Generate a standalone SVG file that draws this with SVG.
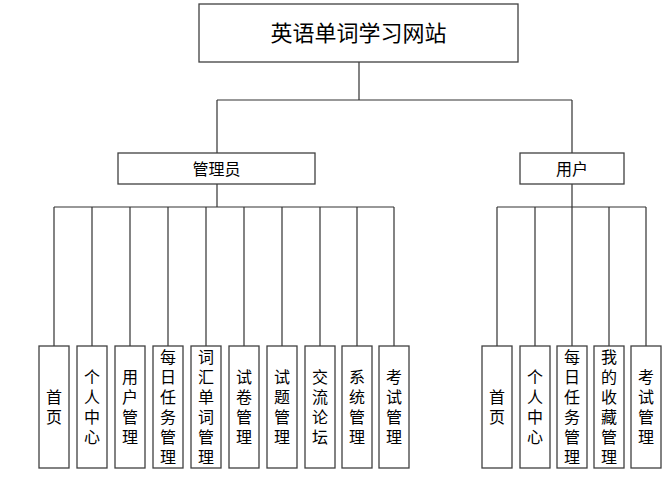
<svg xmlns="http://www.w3.org/2000/svg" width="669" height="477" viewBox="0 0 669 477">
<style>
.box{fill:#fff;stroke:#404040;stroke-width:1.3}
.ln{stroke:#333;stroke-width:1.2;fill:none}
text{font-family:"Noto Sans CJK SC","Noto Sans",sans-serif;fill:#000;text-anchor:middle}
.t1{font-size:22px}
.t2{font-size:16px}
.lf{font-size:16px;writing-mode:vertical-rl;letter-spacing:4px}
</style>
<rect width="669" height="477" fill="#fff"/>
<g id="connectors">
<path class="ln" d="M359,62V100M217,100H572M217,100V153M572,100V153"/>
<path class="ln" d="M217,184V207M54,207H394M54,207V346M92,207V346M130,207V346M168,207V346M206,207V346M244,207V346M282,207V346M320,207V346M357,207V346M394,207V346"/>
<path class="ln" d="M572,184V207M497,207H646M497,207V346M535,207V346M572,207V346M609,207V346M646,207V346"/>
</g>
<g id="root"><rect class="box" x="199" y="4" width="319" height="58"/><text class="t1" x="358.5" y="41">英语单词学习网站</text></g>
<g id="admin"><rect class="box" x="118" y="153" width="197" height="31"/><text class="t2" x="216.5" y="175">管理员</text></g>
<g id="user"><rect class="box" x="520" y="153" width="104" height="31"/><text class="t2" x="572" y="175">用户</text></g>
<g id="a1"><rect class="box" x="39" y="346" width="30" height="122"/><text class="lf" x="54" y="409">首页</text></g>
<g id="a2"><rect class="box" x="77" y="346" width="30" height="122"/><text class="lf" x="92" y="409">个人中心</text></g>
<g id="a3"><rect class="box" x="115" y="346" width="30" height="122"/><text class="lf" x="130" y="409">用户管理</text></g>
<g id="a4"><rect class="box" x="153" y="346" width="30" height="122"/><text class="lf" x="168" y="409">每日任务管理</text></g>
<g id="a5"><rect class="box" x="191" y="346" width="30" height="122"/><text class="lf" x="206" y="409">词汇单词管理</text></g>
<g id="a6"><rect class="box" x="229" y="346" width="30" height="122"/><text class="lf" x="244" y="409">试卷管理</text></g>
<g id="a7"><rect class="box" x="267" y="346" width="30" height="122"/><text class="lf" x="282" y="409">试题管理</text></g>
<g id="a8"><rect class="box" x="305" y="346" width="30" height="122"/><text class="lf" x="320" y="409">交流论坛</text></g>
<g id="a9"><rect class="box" x="342" y="346" width="30" height="122"/><text class="lf" x="357" y="409">系统管理</text></g>
<g id="a10"><rect class="box" x="379" y="346" width="30" height="122"/><text class="lf" x="394" y="409">考试管理</text></g>
<g id="u1"><rect class="box" x="482" y="346" width="30" height="122"/><text class="lf" x="497" y="409">首页</text></g>
<g id="u2"><rect class="box" x="520" y="346" width="30" height="122"/><text class="lf" x="535" y="409">个人中心</text></g>
<g id="u3"><rect class="box" x="557" y="346" width="30" height="122"/><text class="lf" x="572" y="409">每日任务管理</text></g>
<g id="u4"><rect class="box" x="594" y="346" width="30" height="122"/><text class="lf" x="609" y="409">我的收藏管理</text></g>
<g id="u5"><rect class="box" x="631" y="346" width="30" height="122"/><text class="lf" x="646" y="409">考试管理</text></g>
</svg>
